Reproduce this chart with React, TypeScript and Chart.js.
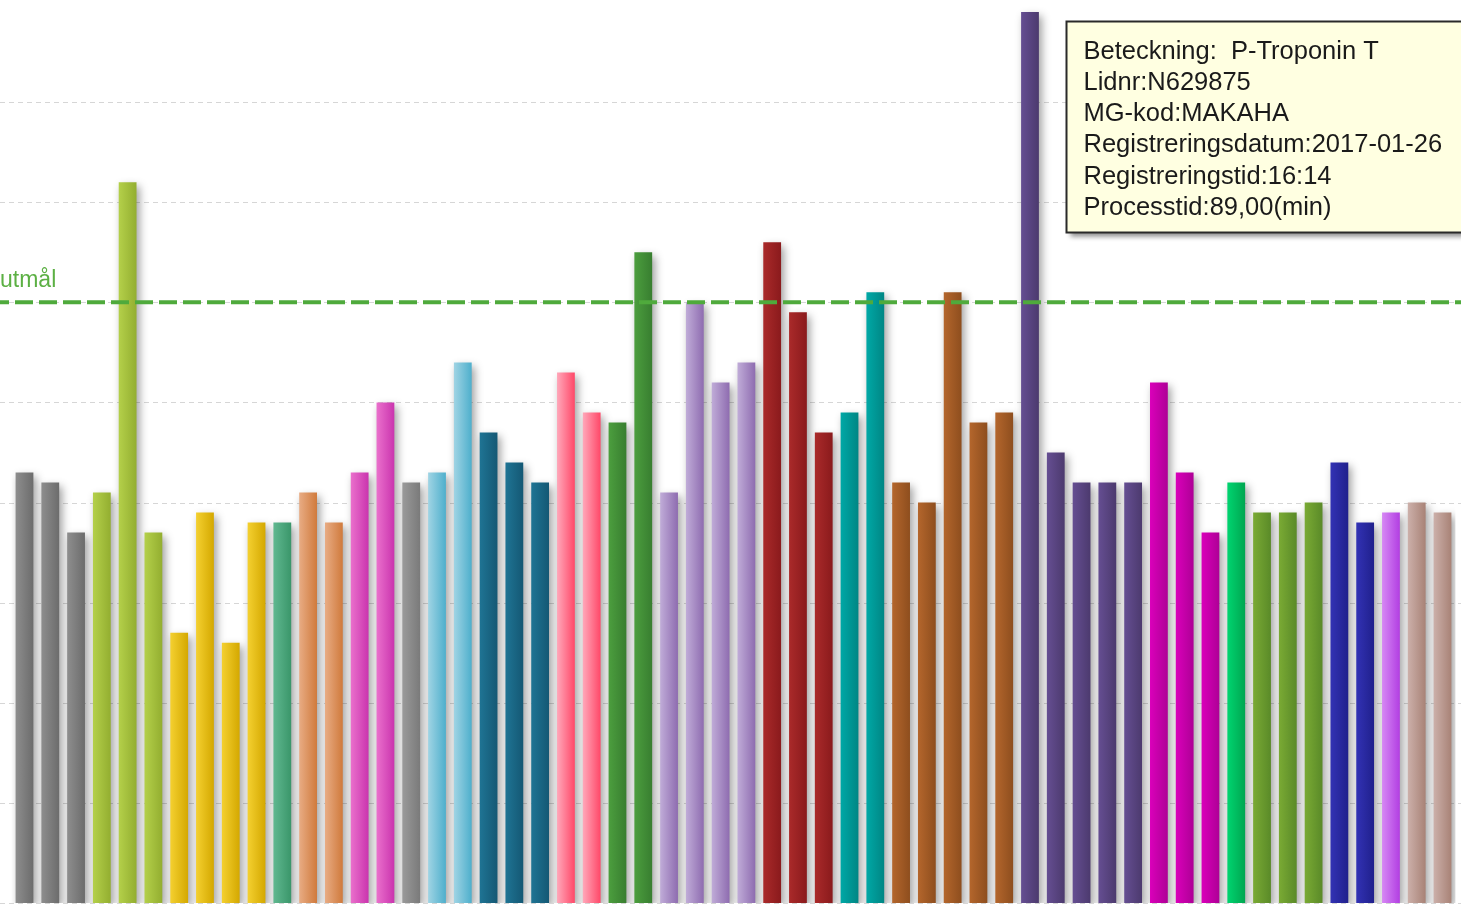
import React, { useEffect, useRef } from 'react';
import { Chart, registerables } from 'chart.js';

Chart.register(...registerables);

// ---- Data ----
const sampleLabels = [
  '1', '2', '3', '4', '5', '6', '7', '8', '9', '10',
  '11', '12', '13', '14', '15', '16', '17', '18', '19', '20',
  '21', '22', '23', '24', '25', '26', '27', '28', '29', '30',
  '31', '32', '33', '34', '35', '36', '37', '38', '39', '40',
  '41', '42', '43', '44', '45', '46', '47', '48', '49', '50',
  '51', '52', '53', '54', '55', '56',
];

// Processtid (min) per sample
const processMinutes = [
  43, 42, 37, 41, 72, 37, 27, 39, 26, 38,
  38, 41, 38, 43, 50, 42, 43, 54, 47, 44,
  42, 53, 49, 48, 65, 41, 60, 52, 54, 66,
  59, 47, 49, 61, 42, 40, 61, 48, 49, 89,
  45, 42, 42, 42, 52, 43, 37, 42, 39, 39,
  40, 44, 38, 39, 40, 39,
];

// colour group of each bar
const colorGroup = [
  0, 0, 0, 1, 1, 1, 2, 2, 2, 2,
  3, 4, 4, 5, 5, 6, 7, 7, 8, 8,
  8, 9, 9, 10, 10, 11, 11, 11, 11, 12,
  12, 12, 13, 13, 14, 14, 14, 14, 14, 15,
  15, 15, 15, 15, 16, 16, 16, 17, 18, 18,
  18, 19, 19, 20, 21, 21,
];

const palette: [string, string][] = [
  ['#8e8e8e', '#6c6c6c'], // gray
  ['#b4d04a', '#93ae30'], // yellow green
  ['#f4d030', '#d4a800'], // gold
  ['#60b890', '#3a966a'], // sea green
  ['#e8ac84', '#d07a3c'], // tan
  ['#ea70cc', '#ca34ae'], // orchid
  ['#9a9a9a', '#7a7a7a'], // gray 2
  ['#a0d4e4', '#4eafcc'], // light blue
  ['#1f7494', '#145874'], // dark cyan blue
  ['#ffa8ba', '#ff4868'], // rose
  ['#4c9e3e', '#387e30'], // green
  ['#c0acd8', '#8e6cb0'], // lavender
  ['#aa2a2a', '#8a1a1c'], // dark red
  ['#00a8a6', '#008684'], // teal
  ['#b4662c', '#8e4e1e'], // brown
  ['#654e92', '#4c3a6e'], // purple
  ['#da00ba', '#ae0096'], // magenta
  ['#00d470', '#00a650'], // bright green
  ['#7aaa34', '#5a8a28'], // olive green
  ['#3232b4', '#20208c'], // navy
  ['#d688f4', '#b23ee2'], // violet
  ['#ccb0aa', '#a88276'], // rosy brown
];

const yMin = 0;
const yMax = 90;
const gridValues = [0, 10, 20, 30, 40, 50, 60, 70, 80];
const goalValue = 60;
const goalLabel = 'utmål';

const tooltipIndex = 39;
const tooltipLines = [
  'Beteckning:  P-Troponin T',
  'Lidnr:N629875',
  'MG-kod:MAKAHA',
  'Registreringsdatum:2017-01-26',
  'Registreringstid:16:14',
  'Processtid:89,00(min)',
];

const FONT = '"Liberation Sans", Arial, sans-serif';

const gridPlugin = {
  id: 'fullGrid',
  beforeDatasetsDraw(chart: any) {
    const ctx = chart.ctx;
    const y = chart.scales.y;
    ctx.save();
    ctx.strokeStyle = '#d6d6d6';
    ctx.lineWidth = 1;
    ctx.setLineDash([5, 4]);
    gridValues.forEach((v) => {
      const py = Math.round(y.getPixelForValue(v)) + 0.5;
      ctx.beginPath();
      ctx.moveTo(0, py);
      ctx.lineTo(chart.width, py);
      ctx.stroke();
    });
    ctx.restore();
  },
};

const shadowPlugin = {
  id: 'barShadow',
  beforeDatasetDraw(chart: any) {
    const ctx = chart.ctx;
    ctx.save();
    ctx.shadowColor = 'rgba(0,0,0,0.38)';
    ctx.shadowBlur = 8;
    ctx.shadowOffsetX = 3;
    ctx.shadowOffsetY = 4;
  },
  afterDatasetDraw(chart: any) {
    chart.ctx.restore();
  },
};

const goalPlugin = {
  id: 'goalLine',
  afterDatasetsDraw(chart: any) {
    const ctx = chart.ctx;
    const py = chart.scales.y.getPixelForValue(goalValue);
    ctx.save();
    ctx.strokeStyle = '#4faa3c';
    ctx.lineWidth = 4;
    ctx.setLineDash([18, 6]);
    ctx.lineDashOffset = 9;
    ctx.beginPath();
    ctx.moveTo(0, py);
    ctx.lineTo(chart.width, py);
    ctx.stroke();
    ctx.setLineDash([]);
    ctx.fillStyle = '#5cb044';
    ctx.font = `23px ${FONT}`;
    ctx.textBaseline = 'alphabetic';
    ctx.textAlign = 'left';
    ctx.fillText(goalLabel, 0, py - 15);
    ctx.restore();
  },
};

const tipPlugin = {
  id: 'fixedTip',
  afterDraw(chart: any) {
    const meta = chart.getDatasetMeta(0);
    const el = meta.data[tooltipIndex];
    if (!el) return;
    const ctx = chart.ctx;
    const left = Math.round(el.x + 36) + 0.5;
    const top = 21.5;
    const w = chart.width - left + 20;
    const h = 211;
    ctx.save();
    ctx.shadowColor = 'rgba(0,0,0,0.45)';
    ctx.shadowBlur = 5;
    ctx.shadowOffsetX = 3;
    ctx.shadowOffsetY = 4;
    ctx.fillStyle = '#ffffe1';
    ctx.fillRect(left, top, w, h);
    ctx.restore();
    ctx.save();
    ctx.strokeStyle = '#2a2a2a';
    ctx.lineWidth = 2;
    ctx.strokeRect(left, top, w, h);
    ctx.fillStyle = '#1a1a1a';
    ctx.font = `25.5px ${FONT}`;
    ctx.textBaseline = 'alphabetic';
    ctx.textAlign = 'left';
    tooltipLines.forEach((line, i) => {
      ctx.fillText(line, left + 17, 58.5 + i * 31.3);
    });
    ctx.restore();
  },
};

function barFill(c: any) {
  const idx = c.dataIndex;
  const [light, dark] = palette[colorGroup[idx] ?? 0];
  const chart = c.chart;
  const xs = chart.scales && chart.scales.x;
  if (!chart.chartArea || !xs || idx === undefined) return dark;
  const cx = xs.getPixelForValue(idx);
  const band = chart.chartArea.width / sampleLabels.length;
  const half = (band * 0.69) / 2;
  const g = chart.ctx.createLinearGradient(cx - half, 0, cx + half, 0);
  g.addColorStop(0, light);
  g.addColorStop(1, dark);
  return g;
}

export default function App() {
  const ref = useRef<HTMLCanvasElement | null>(null);

  useEffect(() => {
    if (!ref.current) return;
    const chart = new Chart(ref.current, {
      type: 'bar',
      data: {
        labels: sampleLabels,
        datasets: [
          {
            label: 'Processtid',
            data: processMinutes,
            backgroundColor: barFill as any,
            borderWidth: 0,
            categoryPercentage: 1,
            barPercentage: 0.69,
          },
        ],
      },
      options: {
        animation: false,
        responsive: false,
        maintainAspectRatio: false,
        layout: { padding: { left: 11.6, right: 5.6, top: 2, bottom: 13 } },
        plugins: {
          legend: { display: false },
          tooltip: { enabled: false },
        },
        scales: {
          x: { display: false },
          y: { display: false, min: yMin, max: yMax },
        },
      },
      plugins: [gridPlugin, shadowPlugin, goalPlugin, tipPlugin],
    });
    return () => chart.destroy();
  }, []);

  return (
    <div style={{ position: 'absolute', left: 0, top: 0, width: 1461, height: 916, background: '#fff' }}>
      <canvas ref={ref} width={1461} height={916} style={{ display: 'block' }} />
    </div>
  );
}
